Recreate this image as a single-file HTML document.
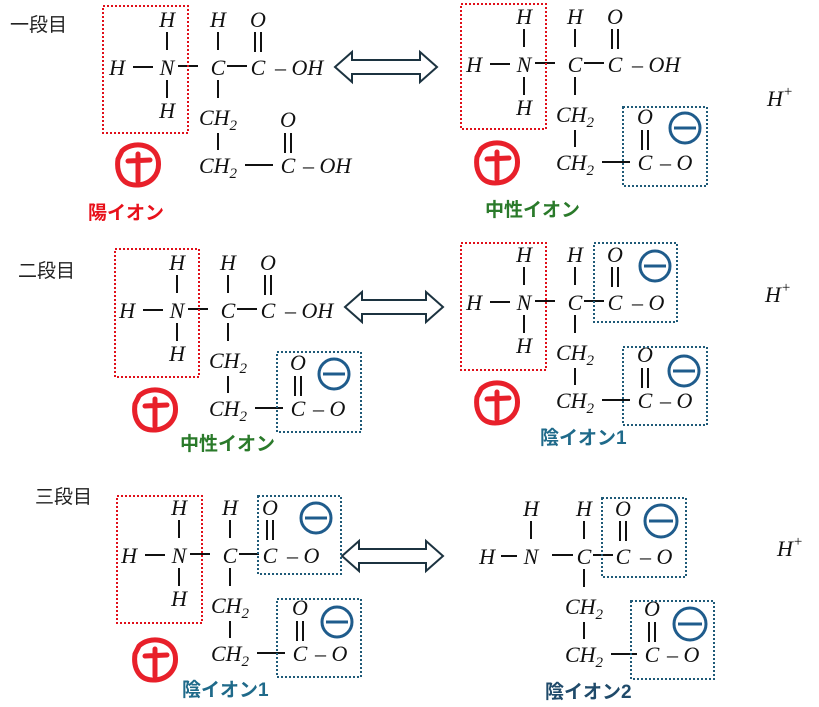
<!DOCTYPE html>
<html><head><meta charset="utf-8"><style>
html,body{margin:0;padding:0;background:#fff;}
svg{display:block;}
.t{font-family:"Liberation Serif",serif;font-style:italic;font-size:22px;fill:#111;text-anchor:middle;}
.s{font-size:15px;}
.l{stroke:#111;stroke-width:2;}
.jp{font-family:"Liberation Sans","Noto Sans CJK JP",sans-serif;font-size:19px;fill:#222;}
.lb{font-family:"Liberation Sans","Noto Sans CJK JP",sans-serif;font-size:19px;font-weight:bold;}
.rb{fill:none;stroke:#e0101a;stroke-width:2;stroke-dasharray:2 2;}
.bb{fill:none;stroke:#1f5a78;stroke-width:2;stroke-dasharray:2 2;}
.mc{fill:none;stroke:#1f5c8c;stroke-width:3;}
.pc{fill:none;stroke:#e8202a;stroke-width:5;stroke-linecap:round;stroke-linejoin:round;}
.ar{fill:#fff;stroke:#1c3340;stroke-width:2;}
</style></head><body>
<svg width="819" height="707" viewBox="0 0 819 707" xmlns="http://www.w3.org/2000/svg">
<defs></defs>
<text class="jp" x="10" y="31">一段目</text>
<text class="jp" x="18" y="277">二段目</text>
<text class="jp" x="35" y="503">三段目</text>

<!-- Row1 left -->
<g transform="translate(167,67)">
<text class="t" x="-50" y="8">H</text><line class="l" x1="-34" y1="0" x2="-14" y2="0"/><text class="t" x="0" y="8">N</text>
<text class="t" x="0" y="-40">H</text><line class="l" x1="0" y1="-35" x2="0" y2="-17"/>
<text class="t" x="0" y="51">H</text><line class="l" x1="0" y1="13" x2="0" y2="31"/>
<line class="l" x1="11" y1="-1" x2="31" y2="-1"/>
<text class="t" x="51" y="8">C</text><text class="t" x="51" y="-40">H</text><line class="l" x1="51" y1="-35" x2="51" y2="-17"/><line class="l" x1="51" y1="13" x2="51" y2="31"/>
<line class="l" x1="60" y1="-1" x2="80" y2="-1"/>
<text class="t" x="91" y="8">C</text><text class="t" x="91" y="-40">O</text><line class="l" x1="88" y1="-35" x2="88" y2="-15"/><line class="l" x1="94" y1="-35" x2="94" y2="-15"/>
<text class="t" x="108" y="8" style="text-anchor:start">– OH</text>
<text class="t" x="51" y="58">CH<tspan class="s" dy="5">2</tspan></text>
<line class="l" x1="51" y1="66" x2="51" y2="83"/>
<text class="t" x="51" y="106">CH<tspan class="s" dy="5">2</tspan></text>
<line class="l" x1="78" y1="98" x2="106" y2="98"/>
<text class="t" x="121" y="106">C</text><text class="t" x="121" y="60">O</text><line class="l" x1="118" y1="66" x2="118" y2="86"/><line class="l" x1="124" y1="66" x2="124" y2="86"/>
<text class="t" x="136" y="106" style="text-anchor:start">– OH</text>
</g>
<rect class="rb" x="103" y="6" width="85" height="127"/>
<g transform="translate(138,165)"><path class="pc" d="M-16,-14 C-6,-24 16,-22 20,-6 C23,10 12,20 -2,20 C-16,20 -22,8 -20,-6 Z"/><path class="pc" d="M-10,-4 L12,-5 M0,-11 L0,16"/></g>
<text class="lb" x="88" y="219" fill="#e8101a">陽イオン</text>

<path class="ar" d="M335,67 L352,52 L352,60 L420,60 L420,52 L437,67 L420,82 L420,74 L352,74 L352,82 Z"/>

<!-- Row1 right -->
<g transform="translate(524,64)">
<text class="t" x="-50" y="8">H</text><line class="l" x1="-34" y1="0" x2="-14" y2="0"/><text class="t" x="0" y="8">N</text>
<text class="t" x="0" y="-40">H</text><line class="l" x1="0" y1="-35" x2="0" y2="-17"/>
<text class="t" x="0" y="51">H</text><line class="l" x1="0" y1="13" x2="0" y2="31"/>
<line class="l" x1="11" y1="-1" x2="31" y2="-1"/>
<text class="t" x="51" y="8">C</text><text class="t" x="51" y="-40">H</text><line class="l" x1="51" y1="-35" x2="51" y2="-17"/><line class="l" x1="51" y1="13" x2="51" y2="31"/>
<line class="l" x1="60" y1="-1" x2="80" y2="-1"/>
<text class="t" x="91" y="8">C</text><text class="t" x="91" y="-40">O</text><line class="l" x1="88" y1="-35" x2="88" y2="-15"/><line class="l" x1="94" y1="-35" x2="94" y2="-15"/>
<text class="t" x="108" y="8" style="text-anchor:start">– OH</text>
<text class="t" x="51" y="58">CH<tspan class="s" dy="5">2</tspan></text>
<line class="l" x1="51" y1="66" x2="51" y2="83"/>
<text class="t" x="51" y="106">CH<tspan class="s" dy="5">2</tspan></text>
<line class="l" x1="78" y1="98" x2="106" y2="98"/>
<text class="t" x="121" y="106">C</text><text class="t" x="121" y="60">O</text><line class="l" x1="118" y1="66" x2="118" y2="86"/><line class="l" x1="124" y1="66" x2="124" y2="86"/>
<text class="t" x="136" y="106" style="text-anchor:start">– O</text>
</g>
<rect class="rb" x="461" y="4" width="85" height="125"/>
<rect class="bb" x="623" y="107" width="84" height="79"/>
<g transform="translate(685,128)"><circle class="mc" r="15"/><line class="mc" x1="-11" y1="0" x2="11" y2="0"/></g>
<g transform="translate(497,163)"><path class="pc" d="M-16,-14 C-6,-24 16,-22 20,-6 C23,10 12,20 -2,20 C-16,20 -22,8 -20,-6 Z"/><path class="pc" d="M-10,-4 L12,-5 M0,-11 L0,16"/></g>
<text class="lb" x="485" y="216" fill="#2a7a2a">中性イオン</text>
<text class="t" x="780" y="106">H<tspan class="s" dy="-10">+</tspan></text>

<!-- Row2 left -->
<g transform="translate(177,310)">
<text class="t" x="-50" y="8">H</text><line class="l" x1="-34" y1="0" x2="-14" y2="0"/><text class="t" x="0" y="8">N</text>
<text class="t" x="0" y="-40">H</text><line class="l" x1="0" y1="-35" x2="0" y2="-17"/>
<text class="t" x="0" y="51">H</text><line class="l" x1="0" y1="13" x2="0" y2="31"/>
<line class="l" x1="11" y1="-1" x2="31" y2="-1"/>
<text class="t" x="51" y="8">C</text><text class="t" x="51" y="-40">H</text><line class="l" x1="51" y1="-35" x2="51" y2="-17"/><line class="l" x1="51" y1="13" x2="51" y2="31"/>
<line class="l" x1="60" y1="-1" x2="80" y2="-1"/>
<text class="t" x="91" y="8">C</text><text class="t" x="91" y="-40">O</text><line class="l" x1="88" y1="-35" x2="88" y2="-15"/><line class="l" x1="94" y1="-35" x2="94" y2="-15"/>
<text class="t" x="108" y="8" style="text-anchor:start">– OH</text>
<text class="t" x="51" y="58">CH<tspan class="s" dy="5">2</tspan></text>
<line class="l" x1="51" y1="66" x2="51" y2="83"/>
<text class="t" x="51" y="106">CH<tspan class="s" dy="5">2</tspan></text>
<line class="l" x1="78" y1="98" x2="106" y2="98"/>
<text class="t" x="121" y="106">C</text><text class="t" x="121" y="60">O</text><line class="l" x1="118" y1="66" x2="118" y2="86"/><line class="l" x1="124" y1="66" x2="124" y2="86"/>
<text class="t" x="136" y="106" style="text-anchor:start">– O</text>
</g>
<rect class="rb" x="115" y="249" width="84" height="128"/>
<rect class="bb" x="277" y="352" width="84" height="80"/>
<g transform="translate(334,374)"><circle class="mc" r="15"/><line class="mc" x1="-11" y1="0" x2="11" y2="0"/></g>
<g transform="translate(155,410)"><path class="pc" d="M-16,-14 C-6,-24 16,-22 20,-6 C23,10 12,20 -2,20 C-16,20 -22,8 -20,-6 Z"/><path class="pc" d="M-10,-4 L12,-5 M0,-11 L0,16"/></g>
<text class="lb" x="180" y="450" fill="#2a7a2a">中性イオン</text>

<path class="ar" d="M345,307 L362,292 L362,300 L426,300 L426,292 L443,307 L426,322 L426,314 L362,314 L362,322 Z"/>

<!-- Row2 right -->
<g transform="translate(524,302)">
<text class="t" x="-50" y="8">H</text><line class="l" x1="-34" y1="0" x2="-14" y2="0"/><text class="t" x="0" y="8">N</text>
<text class="t" x="0" y="-40">H</text><line class="l" x1="0" y1="-35" x2="0" y2="-17"/>
<text class="t" x="0" y="51">H</text><line class="l" x1="0" y1="13" x2="0" y2="31"/>
<line class="l" x1="11" y1="-1" x2="31" y2="-1"/>
<text class="t" x="51" y="8">C</text><text class="t" x="51" y="-40">H</text><line class="l" x1="51" y1="-35" x2="51" y2="-17"/><line class="l" x1="51" y1="13" x2="51" y2="31"/>
<line class="l" x1="60" y1="-1" x2="80" y2="-1"/>
<text class="t" x="91" y="8">C</text><text class="t" x="91" y="-40">O</text><line class="l" x1="88" y1="-35" x2="88" y2="-15"/><line class="l" x1="94" y1="-35" x2="94" y2="-15"/>
<text class="t" x="108" y="8" style="text-anchor:start">– O</text>
<text class="t" x="51" y="58">CH<tspan class="s" dy="5">2</tspan></text>
<line class="l" x1="51" y1="66" x2="51" y2="83"/>
<text class="t" x="51" y="106">CH<tspan class="s" dy="5">2</tspan></text>
<line class="l" x1="78" y1="98" x2="106" y2="98"/>
<text class="t" x="121" y="106">C</text><text class="t" x="121" y="60">O</text><line class="l" x1="118" y1="66" x2="118" y2="86"/><line class="l" x1="124" y1="66" x2="124" y2="86"/>
<text class="t" x="136" y="106" style="text-anchor:start">– O</text>
</g>
<rect class="rb" x="461" y="243" width="85" height="127"/>
<rect class="bb" x="594" y="243" width="83" height="79"/>
<rect class="bb" x="623" y="347" width="84" height="78"/>
<g transform="translate(655,266)"><circle class="mc" r="15"/><line class="mc" x1="-11" y1="0" x2="11" y2="0"/></g>
<g transform="translate(684,371)"><circle class="mc" r="15"/><line class="mc" x1="-11" y1="0" x2="11" y2="0"/></g>
<g transform="translate(497,403)"><path class="pc" d="M-16,-14 C-6,-24 16,-22 20,-6 C23,10 12,20 -2,20 C-16,20 -22,8 -20,-6 Z"/><path class="pc" d="M-10,-4 L12,-5 M0,-11 L0,16"/></g>
<text class="lb" x="540" y="444" fill="#1f6a8a">陰イオン1</text>
<text class="t" x="778" y="302">H<tspan class="s" dy="-10">+</tspan></text>

<!-- Row3 left -->
<g transform="translate(179,555)">
<text class="t" x="-50" y="8">H</text><line class="l" x1="-34" y1="0" x2="-14" y2="0"/><text class="t" x="0" y="8">N</text>
<text class="t" x="0" y="-40">H</text><line class="l" x1="0" y1="-35" x2="0" y2="-17"/>
<text class="t" x="0" y="51">H</text><line class="l" x1="0" y1="13" x2="0" y2="31"/>
<line class="l" x1="11" y1="-1" x2="31" y2="-1"/>
<text class="t" x="51" y="8">C</text><text class="t" x="51" y="-40">H</text><line class="l" x1="51" y1="-35" x2="51" y2="-17"/><line class="l" x1="51" y1="13" x2="51" y2="31"/>
<line class="l" x1="60" y1="-1" x2="80" y2="-1"/>
<text class="t" x="91" y="8">C</text><text class="t" x="91" y="-40">O</text><line class="l" x1="88" y1="-35" x2="88" y2="-15"/><line class="l" x1="94" y1="-35" x2="94" y2="-15"/>
<text class="t" x="108" y="8" style="text-anchor:start">– O</text>
<text class="t" x="51" y="58">CH<tspan class="s" dy="5">2</tspan></text>
<line class="l" x1="51" y1="66" x2="51" y2="83"/>
<text class="t" x="51" y="106">CH<tspan class="s" dy="5">2</tspan></text>
<line class="l" x1="78" y1="98" x2="106" y2="98"/>
<text class="t" x="121" y="106">C</text><text class="t" x="121" y="60">O</text><line class="l" x1="118" y1="66" x2="118" y2="86"/><line class="l" x1="124" y1="66" x2="124" y2="86"/>
<text class="t" x="136" y="106" style="text-anchor:start">– O</text>
</g>
<rect class="rb" x="117" y="496" width="85" height="127"/>
<rect class="bb" x="258" y="496" width="83" height="78"/>
<rect class="bb" x="277" y="599" width="84" height="78"/>
<g transform="translate(316,518)"><circle class="mc" r="15"/><line class="mc" x1="-11" y1="0" x2="11" y2="0"/></g>
<g transform="translate(337,622)"><circle class="mc" r="15"/><line class="mc" x1="-11" y1="0" x2="11" y2="0"/></g>
<g transform="translate(155,660)"><path class="pc" d="M-16,-14 C-6,-24 16,-22 20,-6 C23,10 12,20 -2,20 C-16,20 -22,8 -20,-6 Z"/><path class="pc" d="M-10,-4 L12,-5 M0,-11 L0,16"/></g>
<text class="lb" x="182" y="696" fill="#1f6a8a">陰イオン1</text>

<path class="ar" d="M342,556 L359,541 L359,549 L426,549 L426,541 L443,556 L426,571 L426,563 L359,563 L359,571 Z"/>

<!-- Row3 right -->
<g transform="translate(531,556)">
<text class="t" x="-44" y="8">H</text><line class="l" x1="-30" y1="0" x2="-14" y2="0"/><text class="t" x="0" y="8">N</text>
<text class="t" x="0" y="-40">H</text><line class="l" x1="0" y1="-35" x2="0" y2="-17"/>
<line class="l" x1="21" y1="-1" x2="42" y2="-1"/>
<text class="t" x="53" y="8">C</text><text class="t" x="53" y="-40">H</text><line class="l" x1="53" y1="-35" x2="53" y2="-17"/><line class="l" x1="53" y1="13" x2="53" y2="31"/>
<line class="l" x1="62" y1="-1" x2="82" y2="-1"/>
<text class="t" x="92" y="8">C</text><text class="t" x="92" y="-40">O</text><line class="l" x1="89" y1="-35" x2="89" y2="-15"/><line class="l" x1="95" y1="-35" x2="95" y2="-15"/>
<text class="t" x="109" y="8" style="text-anchor:start">– O</text>
<text class="t" x="53" y="58">CH<tspan class="s" dy="5">2</tspan></text>
<line class="l" x1="53" y1="66" x2="53" y2="83"/>
<text class="t" x="53" y="106">CH<tspan class="s" dy="5">2</tspan></text>
<line class="l" x1="80" y1="98" x2="106" y2="98"/>
<text class="t" x="121" y="106">C</text><text class="t" x="121" y="60">O</text><line class="l" x1="118" y1="66" x2="118" y2="86"/><line class="l" x1="124" y1="66" x2="124" y2="86"/>
<text class="t" x="136" y="106" style="text-anchor:start">– O</text>
</g>
<rect class="bb" x="602" y="498" width="84" height="79"/>
<rect class="bb" x="631" y="601" width="83" height="78"/>
<g transform="translate(661,521)"><circle class="mc" r="16"/><line class="mc" x1="-12" y1="0" x2="12" y2="0"/></g>
<g transform="translate(690,624)"><circle class="mc" r="16"/><line class="mc" x1="-12" y1="0" x2="12" y2="0"/></g>
<text class="lb" x="545" y="698" fill="#1f4a6a">陰イオン2</text>
<text class="t" x="790" y="556">H<tspan class="s" dy="-10">+</tspan></text>
</svg>
</body></html>
